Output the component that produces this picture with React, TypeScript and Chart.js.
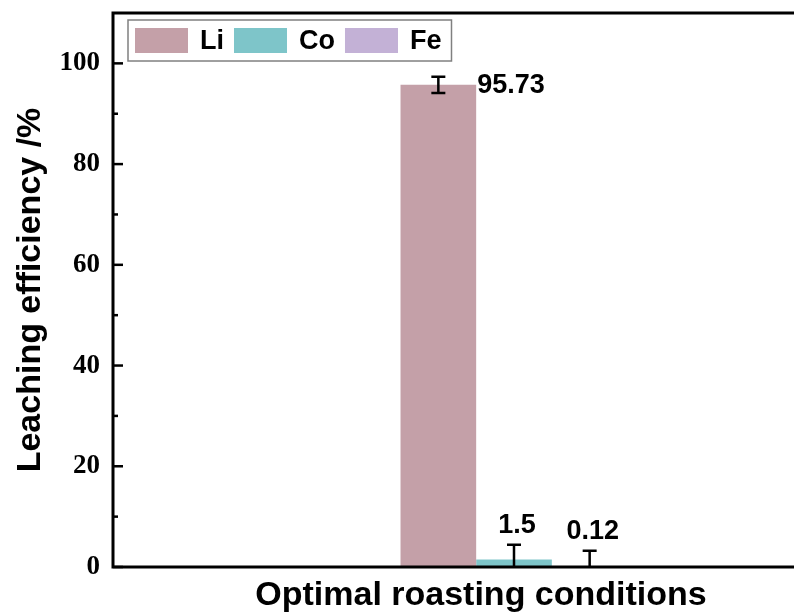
import React, { useEffect, useRef } from 'react';
import { Chart, registerables } from 'chart.js';

Chart.register(...registerables);

// ---- data ----
const categories = ['Optimal roasting conditions'];
const seriesNames = ['Li', 'Co', 'Fe'];
const liValues = [95.73];
const coValues = [1.5];
const feValues = [0.12];
const liErrors = [1.6];
const coErrors = [2.9];
const feErrors = [3.1];
const valueLabels = ['95.73', '1.5', '0.12'];
const seriesColors = ['#C4A0A8', '#7EC5C9', '#C3B1D6'];
const yMajorTicks = [0, 20, 40, 60, 80, 100];
const yMinorTicks = [10, 30, 50, 70, 90];
const Y_MIN = 0;
const Y_MAX = 110;

const seriesValues = [liValues, coValues, feValues];
const seriesErrors = [liErrors, coErrors, feErrors];

const SANS = '"Liberation Sans", Arial, sans-serif';
const SERIF = '"Liberation Serif", "Times New Roman", serif';

const framePlugin = {
  id: 'frameAndTicks',
  afterDraw(chart: any) {
    const { ctx, chartArea } = chart;
    const { left, top, right, bottom } = chartArea;
    const y = chart.scales.y;
    ctx.save();
    ctx.strokeStyle = '#000';
    ctx.lineWidth = 3;
    ctx.strokeRect(left, top, right - left, bottom - top);
    ctx.lineWidth = 2.5;
    yMajorTicks.forEach((v) => {
      const py = y.getPixelForValue(v);
      ctx.beginPath();
      ctx.moveTo(left, py);
      ctx.lineTo(left + 10, py);
      ctx.stroke();
    });
    yMinorTicks.forEach((v) => {
      const py = y.getPixelForValue(v);
      ctx.beginPath();
      ctx.moveTo(left, py);
      ctx.lineTo(left + 5, py);
      ctx.stroke();
    });
    ctx.restore();
  },
};

const errorBarPlugin = {
  id: 'errorBars',
  afterDatasetsDraw(chart: any) {
    const { ctx, chartArea } = chart;
    const y = chart.scales.y;
    ctx.save();
    ctx.beginPath();
    ctx.rect(chartArea.left, chartArea.top, chartArea.right - chartArea.left, chartArea.bottom - chartArea.top);
    ctx.clip();
    ctx.strokeStyle = '#000';
    ctx.lineWidth = 2.5;
    chart.data.datasets.forEach((ds: any, i: number) => {
      const meta = chart.getDatasetMeta(i);
      meta.data.forEach((bar: any, j: number) => {
        const v = seriesValues[i][j];
        const e = seriesErrors[i][j];
        const hi = y.getPixelForValue(v + e);
        const lo = y.getPixelForValue(v - e);
        const cap = 7;
        ctx.beginPath();
        ctx.moveTo(bar.x, lo);
        ctx.lineTo(bar.x, hi);
        ctx.moveTo(bar.x - cap, hi);
        ctx.lineTo(bar.x + cap, hi);
        ctx.moveTo(bar.x - cap, lo);
        ctx.lineTo(bar.x + cap, lo);
        ctx.stroke();
      });
    });
    ctx.restore();

    // value labels
    ctx.save();
    ctx.fillStyle = '#000';
    ctx.font = `bold 27px ${SANS}`;
    chart.data.datasets.forEach((ds: any, i: number) => {
      const meta = chart.getDatasetMeta(i);
      meta.data.forEach((bar: any, j: number) => {
        const v = seriesValues[i][j];
        const e = seriesErrors[i][j];
        if (i === 0) {
          ctx.textAlign = 'left';
          ctx.textBaseline = 'middle';
          ctx.fillText(valueLabels[i], bar.x + bar.width / 2 + 1, bar.y + 1);
        } else {
          const hi = y.getPixelForValue(v + e);
          ctx.textAlign = 'center';
          ctx.textBaseline = 'alphabetic';
          ctx.fillText(valueLabels[i], bar.x + 3, hi - 12);
        }
      });
    });
    ctx.restore();
  },
};

const legendPlugin = {
  id: 'insideLegend',
  afterDraw(chart: any) {
    const { ctx, chartArea } = chart;
    const boxLeft = chartArea.left + 15;
    const boxTop = chartArea.top + 7;
    const boxH = 41;
    ctx.save();
    ctx.font = `bold 27px ${SANS}`;
    let x = boxLeft + 7;
    const sw = 53;
    const sh = 25;
    const items: { x: number; tx: number; w: number }[] = [];
    seriesNames.forEach((name) => {
      const w = ctx.measureText(name).width;
      items.push({ x, tx: x + sw + 12, w });
      x = x + sw + 12 + w + 10;
    });
    const boxRight = x;
    ctx.fillStyle = '#fff';
    ctx.fillRect(boxLeft, boxTop, boxRight - boxLeft, boxH);
    ctx.strokeStyle = '#808080';
    ctx.lineWidth = 1.5;
    ctx.strokeRect(boxLeft, boxTop, boxRight - boxLeft, boxH);
    seriesNames.forEach((name, i) => {
      const it = items[i];
      ctx.fillStyle = chart.data.datasets[i].backgroundColor;
      ctx.fillRect(it.x, boxTop + 8, sw, sh);
      ctx.fillStyle = '#000';
      ctx.textAlign = 'left';
      ctx.textBaseline = 'middle';
      ctx.fillText(name, it.tx, boxTop + boxH / 2 + 1);
    });
    ctx.restore();
  },
};

export default function App() {
  const canvasRef = useRef<HTMLCanvasElement | null>(null);

  useEffect(() => {
    if (!canvasRef.current) return;
    const chart = new Chart(canvasRef.current, {
      type: 'bar',
      data: {
        labels: categories,
        datasets: seriesNames.map((name, i) => ({
          label: name,
          data: seriesValues[i],
          backgroundColor: seriesColors[i],
          borderWidth: 0,
          categoryPercentage: 0.283,
          barPercentage: 1,
        })),
      },
      options: {
        responsive: false,
        animation: false,
        layout: { padding: { top: 13, right: 15, left: 0, bottom: 0 } },
        plugins: {
          legend: { display: false },
          tooltip: { enabled: false },
        },
        scales: {
          x: {
            grid: { display: false, drawTicks: false },
            border: { display: false },
            ticks: {
              color: '#000',
              font: { family: SANS, size: 34, weight: 'bold' },
              labelOffset: -33,
              padding: 8,
            },
            afterFit: (s: any) => {
              s.height = 47;
              s.paddingLeft = 0;
              s.paddingRight = 0;
            },
          },
          y: {
            min: Y_MIN,
            max: Y_MAX,
            afterBuildTicks: (s: any) => {
              s.ticks = yMajorTicks.map((v) => ({ value: v }));
            },
            grid: { display: false, drawTicks: false },
            border: { display: false },
            ticks: {
              color: '#000',
              font: { family: SERIF, size: 27, weight: 'bold' },
              padding: 13,
            },
            title: {
              display: true,
              text: 'Leaching efficiency /%',
              color: '#000',
              font: { family: SANS, size: 34, weight: 'bold' },
              padding: { top: 10, bottom: 0 },
            },
            afterFit: (s: any) => {
              s.width = 113;
              s.paddingTop = 0;
              s.paddingBottom = 0;
            },
          },
        },
      } as any,
      plugins: [errorBarPlugin, framePlugin, legendPlugin],
    });
    return () => chart.destroy();
  }, []);

  return (
    <div
      style={{
        position: 'fixed',
        left: 0,
        top: 0,
        width: 794,
        height: 614,
        overflow: 'hidden',
        background: '#fff',
      }}
    >
      <canvas ref={canvasRef} width={930} height={614} style={{ display: 'block' }} />
    </div>
  );
}
